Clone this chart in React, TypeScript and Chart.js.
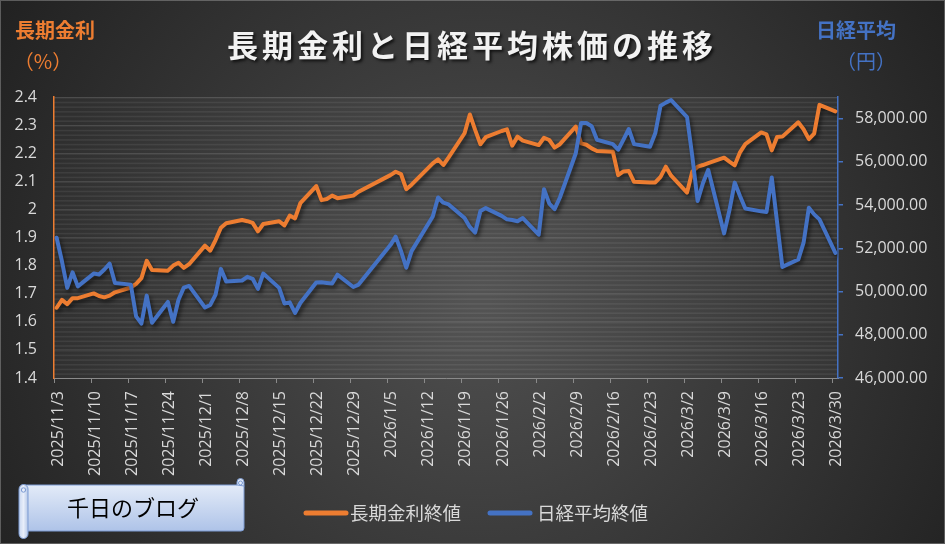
import React, { useEffect, useRef } from "react";
import { Chart, registerables } from "chart.js";

Chart.register(...registerables);

// ---- data ----
const dates = [
  "2025/11/3", "2025/11/4", "2025/11/5", "2025/11/6", "2025/11/7",
  "2025/11/10", "2025/11/11", "2025/11/12", "2025/11/13", "2025/11/14",
  "2025/11/17", "2025/11/18", "2025/11/19", "2025/11/20", "2025/11/21",
  "2025/11/24", "2025/11/25", "2025/11/26", "2025/11/27", "2025/11/28",
  "2025/12/1", "2025/12/2", "2025/12/3", "2025/12/4", "2025/12/5",
  "2025/12/8", "2025/12/9", "2025/12/10", "2025/12/11", "2025/12/12",
  "2025/12/15", "2025/12/16", "2025/12/17", "2025/12/18", "2025/12/19",
  "2025/12/22", "2025/12/23", "2025/12/24", "2025/12/25", "2025/12/26",
  "2025/12/29", "2025/12/30",
  "2026/1/5", "2026/1/6", "2026/1/7", "2026/1/8", "2026/1/9",
  "2026/1/13", "2026/1/14", "2026/1/15", "2026/1/16",
  "2026/1/19", "2026/1/20", "2026/1/21", "2026/1/22", "2026/1/23",
  "2026/1/26", "2026/1/27", "2026/1/28", "2026/1/29", "2026/1/30",
  "2026/2/2", "2026/2/3", "2026/2/4", "2026/2/5", "2026/2/6",
  "2026/2/9", "2026/2/10", "2026/2/11", "2026/2/12", "2026/2/13",
  "2026/2/16", "2026/2/17", "2026/2/18", "2026/2/19", "2026/2/20",
  "2026/2/23", "2026/2/24", "2026/2/25", "2026/2/26", "2026/2/27",
  "2026/3/2", "2026/3/3", "2026/3/4", "2026/3/5", "2026/3/6",
  "2026/3/9", "2026/3/10", "2026/3/11", "2026/3/12", "2026/3/13",
  "2026/3/16", "2026/3/17", "2026/3/18", "2026/3/19", "2026/3/20",
  "2026/3/23", "2026/3/24", "2026/3/25", "2026/3/26", "2026/3/27",
  "2026/3/30",
];

const longRate = [
  1.650, 1.678, 1.663, 1.684, 1.684,
  1.701, 1.692, 1.687, 1.693, 1.705,
  1.722, 1.735, 1.755, 1.817, 1.784,
  1.782, 1.800, 1.810, 1.792, 1.805,
  1.871, 1.853, 1.891, 1.935, 1.951,
  1.962, 1.958, 1.952, 1.922, 1.948,
  1.958, 1.943, 1.978, 1.968, 2.022,
  2.083, 2.033, 2.037, 2.049, 2.040,
  2.049, 2.063,
  2.122, 2.134, 2.126, 2.072, 2.088,
  2.164, 2.178, 2.158, 2.185,
  2.271, 2.338, 2.283, 2.232, 2.257,
  2.279, 2.285, 2.227, 2.259, 2.245,
  2.229, 2.255, 2.247, 2.220, 2.232,
  2.295, 2.235, 2.230, 2.217, 2.208,
  2.205, 2.122, 2.135, 2.137, 2.098,
  2.096, 2.096, 2.116, 2.152, 2.120,
  2.060, 2.135, 2.152, 2.158, 2.165,
  2.184, 2.170, 2.157, 2.203, 2.232,
  2.274, 2.267, 2.210, 2.258, 2.259,
  2.310, 2.285, 2.250, 2.270, 2.372,
  2.349,
];

const nikkei = [
  52490, 51400, 50170, 50890, 50240,
  50830, 50790, 51020, 51290, 50400,
  50320, 48850, 48520, 49810, 48560,
  49520, 48600, 49620, 50180, 50260,
  49260, 49380, 49860, 51050, 50470,
  50510, 50680, 50590, 50120, 50830,
  50170, 49450, 49500, 49010, 49470,
  50420, 50430, 50400, 50370, 50780,
  50210, 50320,
  52150, 52540, 51880, 51100, 51870,
  53470, 54350, 54110, 54030,
  53400, 52990, 52730, 53730, 53860,
  53500, 53340, 53310, 53250, 53400,
  52630, 54730, 54070, 53810, 54350,
  56400, 57800, 57800, 57650, 57020,
  56820, 56560, 57030, 57520, 56820,
  56700, 57320, 58600, 58740, 58860,
  58070, 56250, 54190, 55010, 55630,
  52690, 53760, 55040, 54420, 53840,
  53710, 53680, 55280, 53210, 51140,
  51480, 52260, 53880, 53570, 53340,
  51790,
];

const tickLabels = [
  "2025/11/3", "2025/11/10", "2025/11/17", "2025/11/24", "2025/12/1",
  "2025/12/8", "2025/12/15", "2025/12/22", "2025/12/29", "2026/1/5",
  "2026/1/12", "2026/1/19", "2026/1/26", "2026/2/2", "2026/2/9",
  "2026/2/16", "2026/2/23", "2026/3/2", "2026/3/9", "2026/3/16",
  "2026/3/23", "2026/3/30",
];

const rightTicks = [46000, 48000, 50000, 52000, 54000, 56000, 58000];

const titleText = "長期金利と日経平均株価の推移";
const leftTitle = "長期金利";
const leftUnit = "（%）";
const rightTitle = "日経平均";
const rightUnit = "（円）";
const seriesNames = ["長期金利終値", "日経平均終値"];
const badgeText = "千日のブログ";

const ORANGE = "#ED7D31";
const BLUE = "#4472C4";
const LABEL = "#d9d9d9";
const W = 945;
const H = 544;
const CJK = '"Noto Sans CJK JP", "Noto Sans", sans-serif';
const NUM = '"Open Sans", "Noto Sans", sans-serif';

function dayIndex(s: string): number {
  const [y, m, d] = s.split("/").map(Number);
  return Math.round((Date.UTC(y, m - 1, d) - Date.UTC(2025, 10, 3)) / 86400000);
}

const tickDays = tickLabels.map(dayIndex);
const labelByDay: Record<number, string> = {};
tickLabels.forEach((l, i) => (labelByDay[tickDays[i]] = l));

const decorPlugin = {
  id: "decor",
  beforeDraw(chart: any) {
    const ctx = chart.ctx as CanvasRenderingContext2D;
    ctx.save();
    const g = ctx.createRadialGradient(480, 300, 10, 480, 300, 640);
    g.addColorStop(0, "#4f4f4f");
    g.addColorStop(1, "#1b1b1b");
    ctx.fillStyle = g;
    ctx.fillRect(0, 0, W, H);
    ctx.strokeStyle = "rgba(200,200,200,0.35)";
    ctx.lineWidth = 1;
    ctx.strokeRect(0.5, 0.5, W - 1, H - 1);
    const a = chart.chartArea;
    ctx.fillStyle = "rgba(255,255,255,0.025)";
    ctx.fillRect(a.left, a.top, a.right - a.left, a.bottom - a.top);
    const n = 60;
    const step = (a.bottom - a.top) / n;
    ctx.fillStyle = "rgba(255,255,255,0.07)";
    for (let i = 0; i < n; i++) {
      ctx.fillRect(a.left, a.top + i * step, a.right - a.left, 1.6);
    }
    ctx.restore();
  },
  beforeDatasetsDraw(chart: any) {
    const ctx = chart.ctx as CanvasRenderingContext2D;
    ctx.save();
    ctx.shadowColor = "rgba(0,0,0,0.55)";
    ctx.shadowBlur = 4;
    ctx.shadowOffsetX = 2;
    ctx.shadowOffsetY = 3;
  },
  afterDatasetsDraw(chart: any) {
    chart.ctx.restore();
  },
  afterDraw(chart: any) {
    const ctx = chart.ctx as CanvasRenderingContext2D;
    ctx.save();
    // title
    ctx.textBaseline = "middle";
    ctx.textAlign = "center";
    ctx.font = `bold 31px ${CJK}`;
    (ctx as any).letterSpacing = "4px";
    ctx.shadowColor = "rgba(0,0,0,0.7)";
    ctx.shadowBlur = 3;
    ctx.shadowOffsetX = 2;
    ctx.shadowOffsetY = 2;
    ctx.fillStyle = "#f2f2f2";
    ctx.fillText(titleText, 472, 45);
    (ctx as any).letterSpacing = "0px";
    ctx.shadowColor = "transparent";

    // axis titles
    ctx.font = `bold 20px ${CJK}`;
    ctx.fillStyle = ORANGE;
    ctx.textAlign = "left";
    ctx.fillText(leftTitle, 15, 30);
    ctx.font = `20px ${CJK}`;
    ctx.textAlign = "center";
    ctx.fillText(leftUnit, 43, 61);
    ctx.font = `bold 20px ${CJK}`;
    ctx.fillStyle = BLUE;
    ctx.fillText(rightTitle, 856, 30);
    ctx.font = `20px ${CJK}`;
    ctx.fillText(rightUnit, 866, 61);

    // legend
    const ly = 513;
    ctx.lineCap = "round";
    ctx.lineWidth = 5;
    ctx.strokeStyle = ORANGE;
    ctx.beginPath();
    ctx.moveTo(306, ly);
    ctx.lineTo(346, ly);
    ctx.stroke();
    ctx.strokeStyle = BLUE;
    ctx.beginPath();
    ctx.moveTo(490, ly);
    ctx.lineTo(530, ly);
    ctx.stroke();
    ctx.font = `18.5px ${CJK}`;
    ctx.fillStyle = LABEL;
    ctx.textAlign = "left";
    ctx.fillText(seriesNames[0], 350, ly);
    ctx.fillText(seriesNames[1], 537, ly);

    // scroll badge
    const grad = ctx.createLinearGradient(0, 485, 0, 531);
    grad.addColorStop(0, "#e3ebf8");
    grad.addColorStop(1, "#aec3e8");
    ctx.lineWidth = 1;
    ctx.strokeStyle = "#7c9bd3";
    ctx.fillStyle = grad;
    // body with right-top curl
    ctx.beginPath();
    ctx.moveTo(25, 485);
    ctx.lineTo(237, 485);
    ctx.lineTo(237, 482);
    ctx.arc(240.5, 482, 3.5, Math.PI, 0, false);
    ctx.lineTo(244, 528);
    ctx.quadraticCurveTo(244, 531, 241, 531);
    ctx.lineTo(25, 531);
    ctx.closePath();
    ctx.fill();
    ctx.stroke();
    // right curl inner
    ctx.beginPath();
    ctx.arc(240.5, 483, 2, 0, Math.PI * 2);
    ctx.stroke();
    ctx.beginPath();
    ctx.moveTo(237, 485);
    ctx.lineTo(244, 486);
    ctx.stroke();
    // left roll
    const g2 = ctx.createLinearGradient(19, 0, 28, 0);
    g2.addColorStop(0, "#c9d7f0");
    g2.addColorStop(0.5, "#e8eefa");
    g2.addColorStop(1, "#b4c7e7");
    ctx.fillStyle = g2;
    ctx.beginPath();
    ctx.moveTo(19, 489);
    ctx.arc(23.5, 489, 4.5, Math.PI, 0, false);
    ctx.lineTo(28, 534);
    ctx.arc(23.5, 534, 4.5, 0, Math.PI, false);
    ctx.closePath();
    ctx.fill();
    ctx.stroke();
    ctx.beginPath();
    ctx.arc(23.5, 490, 2.2, 0, Math.PI * 2);
    ctx.stroke();
    // badge text
    ctx.font = `22px ${CJK}`;
    ctx.fillStyle = "#000000";
    ctx.textAlign = "center";
    ctx.textBaseline = "middle";
    ctx.fillText(badgeText, 133, 508);
    ctx.restore();
  },
};

export default function App() {
  const ref = useRef<HTMLCanvasElement | null>(null);

  useEffect(() => {
    if (!ref.current) return;
    const rateData = dates.map((d, i) => ({ x: dayIndex(d) + 0.5, y: longRate[i] }));
    const nikkeiData = dates.map((d, i) => ({ x: dayIndex(d) + 0.5, y: nikkei[i] }));

    const chart = new Chart(ref.current, {
      type: "line",
      data: {
        datasets: [
          {
            label: seriesNames[0],
            data: rateData,
            yAxisID: "y",
            borderColor: ORANGE,
            backgroundColor: ORANGE,
            borderWidth: 4,
            pointRadius: 0,
            tension: 0,
            borderJoinStyle: "round",
            borderCapStyle: "round",
            order: 1,
          },
          {
            label: seriesNames[1],
            data: nikkeiData,
            yAxisID: "y1",
            borderColor: BLUE,
            backgroundColor: BLUE,
            borderWidth: 4,
            pointRadius: 0,
            tension: 0,
            borderJoinStyle: "round",
            borderCapStyle: "round",
            order: 0,
          },
        ],
      },
      options: {
        responsive: false,
        animation: false,
        devicePixelRatio: 1,
        layout: { padding: { top: 97, left: 0, right: 0, bottom: 0 } },
        plugins: {
          legend: { display: false },
          title: { display: false },
          tooltip: { enabled: false },
        },
        scales: {
          x: {
            type: "linear",
            min: 0,
            max: 148,
            afterBuildTicks: (s: any) => {
              s.ticks = tickDays.map((v) => ({ value: v }));
            },
            afterFit: (s: any) => {
              s.height = H - 378;
            },
            ticks: {
              autoSkip: false,
              minRotation: 90,
              maxRotation: 90,
              padding: 8,
              labelOffset: 4,
              color: LABEL,
              font: { family: NUM, size: 16 },
              callback: (v: any) => labelByDay[Math.round(Number(v))] ?? "",
            },
            grid: {
              drawOnChartArea: false,
              drawTicks: true,
              tickLength: 5,
              color: "#8a8a8a",
            },
            border: { color: "#8a8a8a", width: 1 },
          },
          y: {
            type: "linear",
            position: "left",
            min: 1.4,
            max: 2.4,
            afterFit: (s: any) => {
              s.width = 54;
            },
            ticks: {
              stepSize: 0.1,
              padding: 17,
              color: LABEL,
              font: { family: NUM, size: 16 },
              callback: (v: any) => String(Number(Number(v).toFixed(1))),
            },
            grid: {
              drawTicks: false,
              color: "rgba(255,255,255,0.08)",
            },
            border: { color: ORANGE, width: 1.5 },
          },
          y1: {
            type: "linear",
            position: "right",
            min: 46000,
            max: 59000,
            afterBuildTicks: (s: any) => {
              s.ticks = rightTicks.map((v) => ({ value: v }));
            },
            afterFit: (s: any) => {
              s.width = W - 838;
            },
            ticks: {
              padding: 12,
              color: LABEL,
              font: { family: NUM, size: 16 },
              callback: (v: any) =>
                Number(v).toLocaleString("en-US", {
                  minimumFractionDigits: 2,
                  maximumFractionDigits: 2,
                }),
            },
            grid: {
              drawOnChartArea: false,
              drawTicks: true,
              tickLength: 5,
              color: BLUE,
              lineWidth: 1.5,
            },
            border: { color: BLUE, width: 1.5 },
          },
        },
      },
      plugins: [decorPlugin],
    });
    return () => chart.destroy();
  }, []);

  return (
    <div style={{ position: "fixed", left: 0, top: 0, width: W, height: H }}>
      <canvas ref={ref} width={W} height={H} style={{ width: W, height: H, display: "block" }} />
    </div>
  );
}
